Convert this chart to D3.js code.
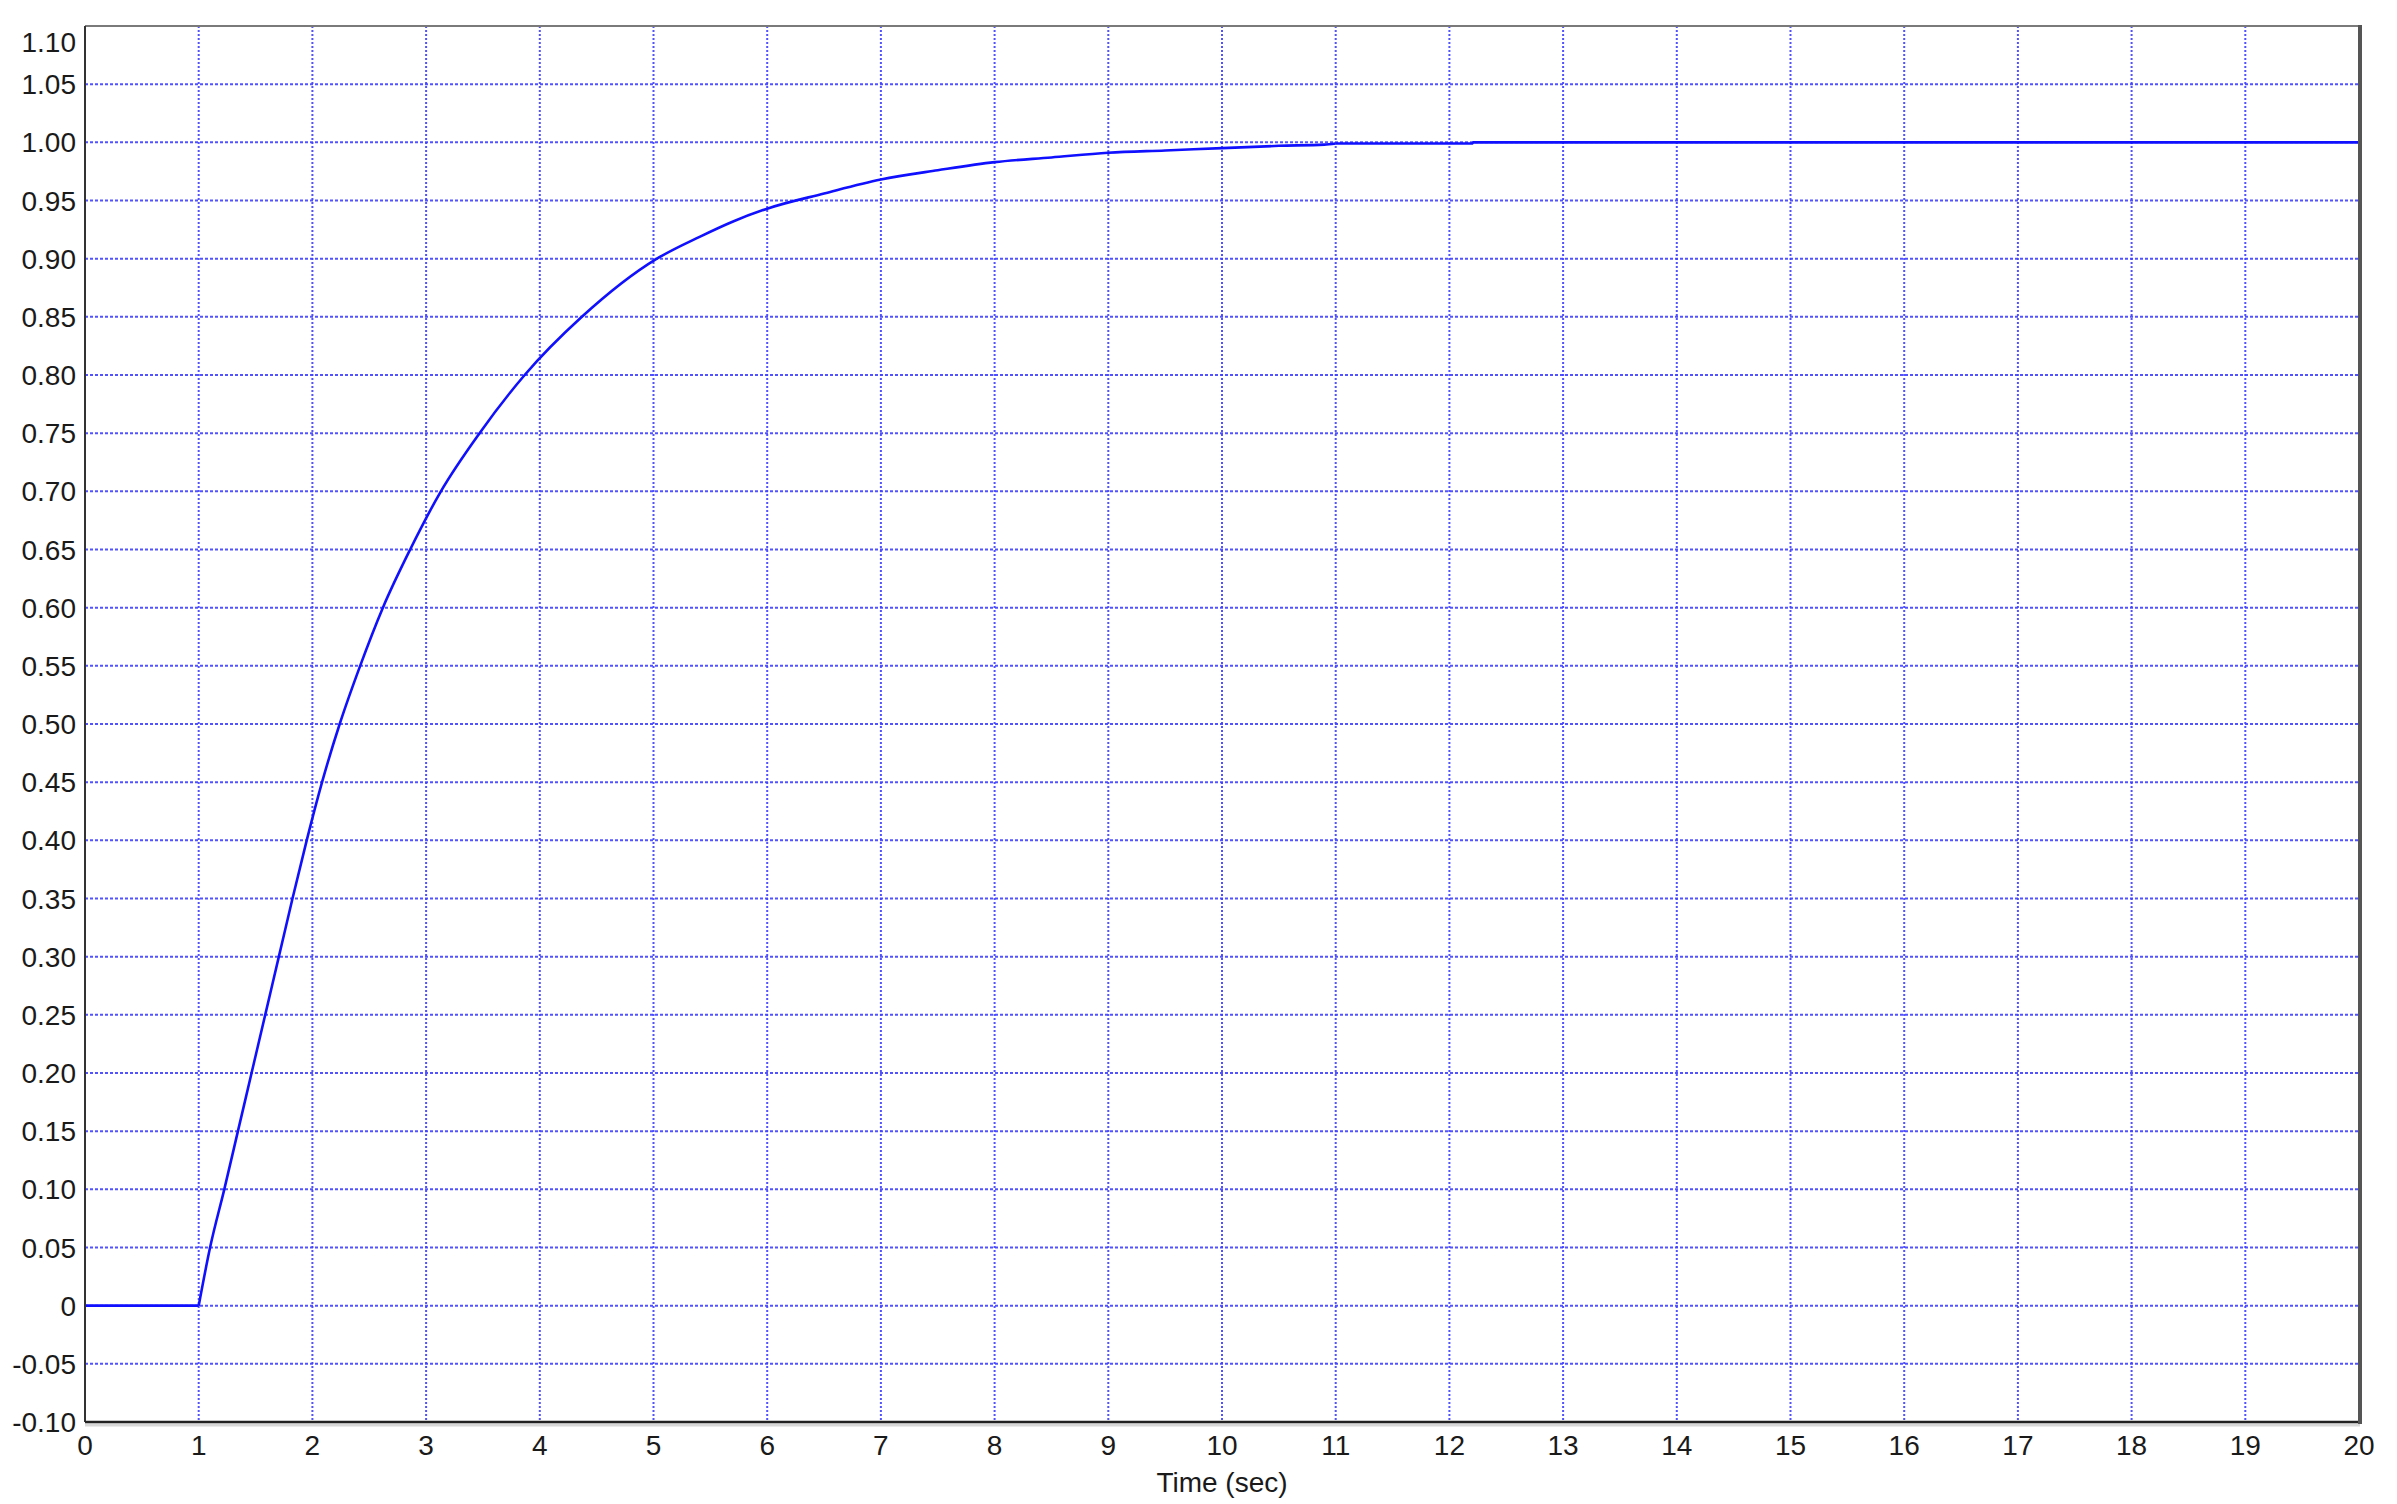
<!DOCTYPE html>
<html>
<head>
<meta charset="utf-8">
<script src="https://cdn.jsdelivr.net/npm/d3@7"></script>
<style>
  html, body { margin: 0; padding: 0; background: #fff; }
  svg { display: block; }
</style>
</head>
<body>
<svg id="chart" width="2397" height="1504"></svg>
<script>
// ---- data ----
const timeSec = [0, 1, 1.10, 1.225, 1.345, 1.465, 1.585, 1.705, 1.825, 1.95, 2.085, 2.24, 2.42, 2.62, 2.86, 3.13, 3.47, 3.867, 4.37, 5.03, 5.41, 5.7, 6, 6.5, 7, 7.5, 8, 8.5, 9, 9.5, 10, 10.5, 10.9, 11, 12.2, 12.21, 20];
const response = [0, 0, 0.05, 0.10, 0.15, 0.20, 0.25, 0.30, 0.35, 0.40, 0.45, 0.50, 0.55, 0.60, 0.65, 0.70, 0.75, 0.80, 0.85, 0.90, 0.919, 0.932, 0.943, 0.956, 0.968, 0.976, 0.983, 0.987, 0.991, 0.993, 0.995, 0.997, 0.998, 0.999, 0.999, 1.0, 1.0];
const xTicks = d3.range(0, 21, 1);
const yTickLabels = ["-0.10","-0.05","0","0.05","0.10","0.15","0.20","0.25","0.30","0.35","0.40","0.45","0.50","0.55","0.60","0.65","0.70","0.75","0.80","0.85","0.90","0.95","1.00","1.05","1.10"];
const yTicks = yTickLabels.map(Number);
const xLabel = "Time (sec)";

// ---- layout ----
const L = 85, R = 2359, T = 26, B = 1422;
const svg = d3.select("#chart");
const x = d3.scaleLinear().domain([0, 20]).range([L, R]);
const y = d3.scaleLinear().domain([-0.1, 1.1]).range([B, T]);
const font = "'Liberation Sans', Arial, sans-serif";

// grid
const grid = svg.append("g");
grid.selectAll("line.v").data(xTicks.filter(d => d > 0 && d < 20)).join("line")
  .attr("x1", d => x(d)).attr("x2", d => x(d)).attr("y1", T).attr("y2", B)
  .attr("stroke", "#4040ff").attr("stroke-width", 2).attr("stroke-dasharray", "2,2").attr("opacity", 0.9);
grid.selectAll("line.h").data(yTicks.filter(d => d > -0.1 + 1e-9 && d < 1.1 - 1e-9)).join("line")
  .attr("x1", L).attr("x2", R).attr("y1", d => y(d)).attr("y2", d => y(d))
  .attr("stroke", "#4040ff").attr("stroke-width", 2).attr("stroke-dasharray", "3,2").attr("opacity", 0.9);

// curve: flat pre-step segment, smooth rise, quantised plateau
const pts = timeSec.map((t, i) => [t, response[i]]);
const iStart = 1, iSmoothEnd = timeSec.indexOf(11);
const linLine = d3.line().x(d => x(d[0])).y(d => y(d[1]));
const smoothLine = d3.line().x(d => x(d[0])).y(d => y(d[1])).curve(d3.curveMonotoneX);
const curveG = svg.append("g").attr("fill", "none").attr("stroke", "#1010ff").attr("stroke-width", 2.6)
  .attr("stroke-linejoin", "round");
curveG.append("path").attr("d", linLine(pts.slice(0, iStart + 1)));
curveG.append("path").attr("d", smoothLine(pts.slice(iStart, iSmoothEnd + 1)));
curveG.append("path").attr("d", linLine(pts.slice(iSmoothEnd)));

// frame
svg.append("line").attr("x1", L).attr("x2", R).attr("y1", T).attr("y2", T).attr("stroke", "#7a7a7a").attr("stroke-width", 2);
svg.append("line").attr("x1", L).attr("x2", L).attr("y1", T).attr("y2", B).attr("stroke", "#333").attr("stroke-width", 2);
svg.append("line").attr("x1", L).attr("x2", R + 1).attr("y1", B + 3).attr("y2", B + 3).attr("stroke", "#d8d8d8").attr("stroke-width", 3);
svg.append("line").attr("x1", L).attr("x2", R).attr("y1", B).attr("y2", B).attr("stroke", "#222").attr("stroke-width", 2.5);
svg.append("line").attr("x1", R + 1).attr("x2", R + 1).attr("y1", T - 1).attr("y2", B + 2).attr("stroke", "#555").attr("stroke-width", 4);

// y tick labels
svg.append("g").selectAll("text").data(yTicks).join("text")
  .attr("x", 76)
  .attr("y", d => Math.max(y(d), T + 16))
  .attr("dy", "0.36em")
  .attr("text-anchor", "end")
  .attr("font-family", font).attr("font-size", 28).attr("fill", "#1a1a1a")
  .text((d, i) => yTickLabels[i]);

// x tick labels
svg.append("g").selectAll("text").data(xTicks).join("text")
  .attr("x", d => x(d))
  .attr("y", 1445)
  .attr("dy", "0.36em")
  .attr("text-anchor", "middle")
  .attr("font-family", font).attr("font-size", 28).attr("fill", "#1a1a1a")
  .text(d => d);

// x axis title
svg.append("text")
  .attr("x", (L + R) / 2).attr("y", 1482).attr("dy", "0.36em")
  .attr("text-anchor", "middle")
  .attr("font-family", font).attr("font-size", 28).attr("fill", "#1a1a1a")
  .text(xLabel);
</script>
</body>
</html>
